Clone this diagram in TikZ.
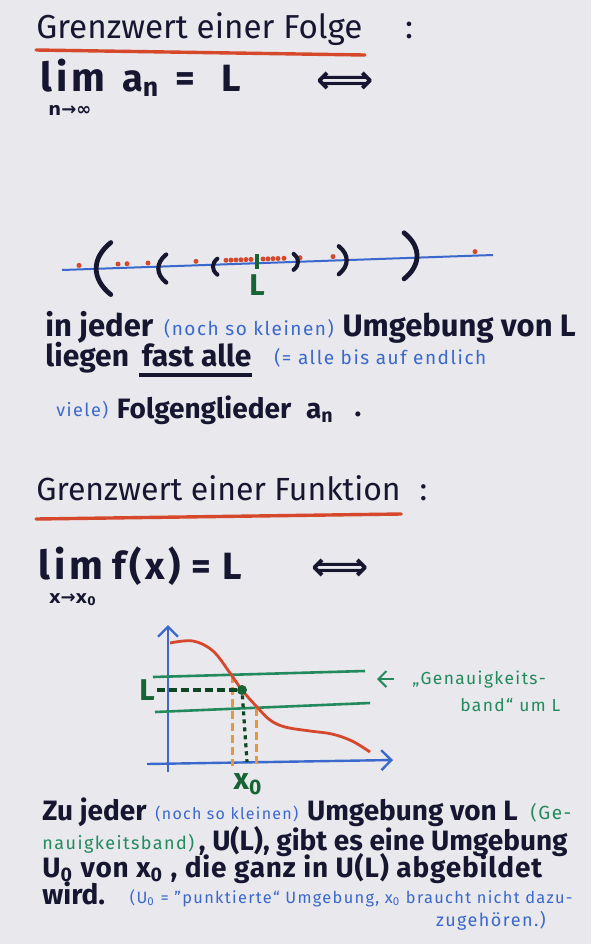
\documentclass[tikz,border=0pt]{standalone}
\usepackage{fontspec}
\setmainfont{Fira Sans}
\newfontfamily\notefont[LetterSpace=8]{Fira Sans}
\newfontfamily\wideface[LetterSpace=10]{Fira Sans}
\newfontfamily\symfont{DejaVu Sans}
\usetikzlibrary{arrows.meta,positioning,calc}
\definecolor{paper}{RGB}{232,232,237}
\definecolor{ink}{RGB}{22,22,48}
\definecolor{redink}{RGB}{214,72,44}
\definecolor{blueink}{RGB}{58,104,205}
\definecolor{greenink}{RGB}{34,138,92}
\definecolor{dkgreen}{RGB}{22,100,52}
\definecolor{orangeink}{RGB}{232,152,58}

\begin{document}
\begin{tikzpicture}[x=0.5pt, y=-0.5pt,
  head/.style={anchor=base west, inner sep=0pt, text=ink, font=\fontsize{#1}{#1}\selectfont},
  head/.default=16,
  body/.style={anchor=base west, inner sep=0pt, text=ink, font=\bfseries\fontsize{#1}{#1}\selectfont},
  body/.default=15,
  big/.style={anchor=base west, inner sep=0pt, text=ink, font=\wideface\bfseries\fontsize{#1}{#1}\selectfont},
  big/.default=20,
  note/.style={anchor=base west, inner sep=0pt, text=blueink, font=\notefont\fontsize{#1}{#1}\selectfont},
  note/.default=10,
  gnote/.style={note=#1, text=greenink},
  gnote/.default=10,
  subtext/.style={anchor=north, inner sep=0pt, text=ink, font=\symfont\bfseries\fontsize{9}{10}\selectfont},
  equiv/.style={text=ink, inner sep=0pt, font=\symfont\bfseries\fontsize{20}{22}\selectfont},
  redline/.style={redink, line width=1.7pt, line cap=round},
  seqdot/.style={redink},
  axis/.style={blueink, line width=1.2pt, -{Straight Barb[length=5pt]}},
  band/.style={greenink, line width=1.3pt},
  glabel/.style={text=dkgreen, inner sep=1pt, font=\bfseries\fontsize{15}{18}\selectfont}]
  \fill[paper] (0,0) rectangle (591,944);

  % Grenzwert einer Folge
  \node[head=16.6] (tA) at (36,38) {Grenzwert einer Folge};
  \node[head=16.6] (cA) at ($(tA.base east)+(42,0)$) {:};
  \draw[redline] ($(tA.base west)+(0,12)$) -- ($(tA.base east)+(2,17)$);
  \node[big] (limA) at (40,91) {lim};
  \node[subtext] (subA) at ($(limA.base)+(-3,14)$) {n→∞};
  \node[big=19] (eqA) at ($(limA.base east)+(16,0)$) {a\textsubscript{n}\hspace{8pt}=\hspace{13pt}L};
  \node[equiv] (iffA) at (345,83) {⟺};

  % Zahlengerade
  \coordinate (nlW) at (62,270);
  \coordinate (nlE) at (493,255);
  \draw[blueink, line width=1pt] (nlW) -- (nlE);
  \foreach \x in {79,118,127,148,196,226,231,236,241,246,251,263,268,273,278,284,300,333,475}
    \fill[seqdot] (\x,{270-0.0348*(\x-62)-4}) circle (2.5);
  \foreach \x/\h/\d/\w in {103/26/0/2.4, 162/14/2/2.1, 215/8/2/2} {
    \pgfmathsetmacro\yc{270-0.0348*(\x-62)+\d}
    \draw[ink, line width=\w pt, line cap=round] (\x+0.3*\h,\yc-\h) .. controls (\x-0.45*\h,\yc-0.4*\h) and (\x-0.45*\h,\yc+0.4*\h) .. (\x+0.3*\h,\yc+\h);
  }
  \foreach \x/\h/\d/\w in {296/8/0/2, 343/14/0/2.1, 411/23/-2/2.4} {
    \pgfmathsetmacro\yc{270-0.0348*(\x-62)+\d}
    \draw[ink, line width=\w pt, line cap=round] (\x-0.3*\h,\yc-\h) .. controls (\x+0.45*\h,\yc-0.4*\h) and (\x+0.45*\h,\yc+0.4*\h) .. (\x-0.3*\h,\yc+\h);
  }
  \draw[dkgreen, line width=1.6pt] (257,254) -- (257,269);
  \node[glabel] (Lnl) at (257,285) {L};

  \node[body=15.5] (a1) at (45,336) {in jeder};
  \node[note=9.5] (a2) at ($(a1.base east)+(10,-1)$) {(noch so kleinen)};
  \node[body=15.5] (a3) at ($(a2.base east)+(8,1)$) {Umgebung von L};
  \node[body] (b1) at (45,366) {liegen};
  \node[body] (b2) at ($(b1.base east)+(12,0)$) {fast alle};
  \draw[ink, line width=1.8pt] ($(b2.base west)+(-2,9)$) -- ($(b2.base east)+(0,9)$);
  \node[note=9.5] (b3) at ($(b2.base east)+(22,-2)$) {(= alle bis auf endlich};
  \node[note=9] (c1) at (56,416) {viele)};
  \node[body=14] (c2) at ($(c1.base east)+(8,2)$) {Folgenglieder};
  \node[body=14] (c3) at ($(c2.base east)+(14,0)$) {a\textsubscript{n}};
  \node[body=14] (c4) at ($(c3.base east)+(20,-2)$) {.};

  % Grenzwert einer Funktion
  \node[head] (tB) at (36,500) {Grenzwert einer Funktion};
  \node[head] (cB) at ($(tB.base east)+(18,0)$) {:};
  \draw[redline] ($(tB.base west)+(0,19)$) -- ($(tB.base east)+(0,14)$);
  \node[big] (limB) at (38,579) {lim};
  \node[subtext] (subB) at ($(limB.base)+(2,14)$) {x→x\textsubscript{0}};
  \node[big=19] (eqB) at ($(limB.base east)+(8,0)$) {f(x)\hspace{5pt}=\hspace{6pt}L};
  \node[equiv] (iffB) at (340,570) {⟺};

  % Skizze
  \coordinate (yB) at (168,772);
  \coordinate (yT) at (168,625);
  \coordinate (xL) at (147,764);
  \coordinate (xR) at (393,760);
  \draw[axis] (yB) -- (yT);
  \draw[axis] (xL) -- (xR);
  \draw[band] (153,677) -- (365,671);
  \draw[band] (155,712) -- (370,703);
  \draw[orangeink, line width=1.5pt, dash pattern=on 4pt off 2pt] (232,675) -- (232,766);
  \draw[orangeink, line width=1.5pt, dash pattern=on 4pt off 2pt] (256,708) -- (256,766);
  \draw[redink, line width=1.4pt] plot[smooth, tension=0.6] coordinates {(170,643) (193,641) (213,651) (230,673) (242,690) (257,707) (270,720) (285,727) (310,731) (332,734) (352,741) (370,752)};
  \node[circle, fill=dkgreen, inner sep=0pt, minimum size=5pt] (fdot) at (242,690) {};
  \node[glabel] (Lgr) at (147,690) {L};
  \node[glabel] (x0) at (248,784) {x\textsubscript{0}};
  \coordinate (x0foot) at (247,762);
  \draw[dkgreen!70!black, line width=1.6pt, dash pattern=on 4pt off 2pt] (Lgr.east) -- (fdot);
  \draw[dkgreen!70!black, line width=1.6pt, dash pattern=on 2pt off 2pt] (fdot) -- (x0foot);
  \node[gnote=8.7] (gA) at (412,684) {„Genauigkeits-};
  \node[gnote=8.7] (gB) at (460,711) {band“ um L};
  \draw[greenink, line width=1pt, -{Straight Barb[length=4pt]}] ($(gA.west)+(-18,0)$) -- ++(-17,0);

  \node[body=14] (d1) at (42,820) {Zu jeder};
  \node[note=8] (d2) at ($(d1.base east)+(8,-1)$) {(noch so kleinen)};
  \node[body=14] (d3) at ($(d2.base east)+(8,1)$) {Umgebung von L};
  \node[gnote=9.5] (d4) at ($(d3.base east)+(12,-1)$) {(Ge-};
  \node[gnote=9] (e1) at (42,849) {nauigkeitsband)};
  \node[body=14] (e2) at ($(e1.base east)+(4,1)$) {, U(L), gibt es eine Umgebung};
  \node[body=14, font=\bfseries\fontsize{14}{14}\selectfont\addfontfeature{LetterSpace=3}] (f1) at (42,877) {U\textsubscript{0} von x\textsubscript{0} , die ganz in U(L) abgebildet};
  \node[body=14] (g1) at (42,904) {wird.};
  \node[note=8.2] (g2) at ($(g1.base east)+(24,-1)$) {(U\textsubscript{0} = ”punktierte“ Umgebung, x\textsubscript{0} braucht nicht dazu-};
  \node[note=9, anchor=base east] (g3) at (546,926) {zugehören.)};
\end{tikzpicture}
\end{document}
